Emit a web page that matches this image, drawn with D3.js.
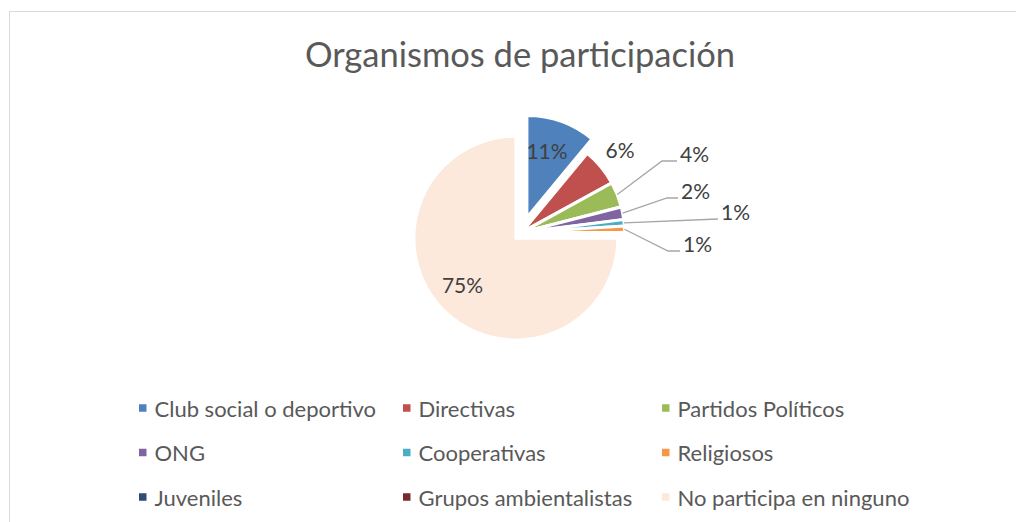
<!DOCTYPE html>
<html>
<head>
<meta charset="utf-8">
<script src="https://cdn.jsdelivr.net/npm/d3@7"></script>
<style>
  html, body { margin: 0; padding: 0; background: #fff; }
  svg { display: block; font-family: Lato, "Open Sans", sans-serif; }
  .pct { fill: #404040; font-size: 21px; }
  .legend-label { fill: #595959; font-size: 22px; }
  .title { fill: #595959; font-size: 34.5px; }
</style>
</head>
<body>
<div id="chart"></div>
<script>
const categories = [
  "Club social o deportivo", "Directivas", "Partidos Políticos",
  "ONG", "Cooperativas", "Religiosos",
  "Juveniles", "Grupos ambientalistas", "No participa en ninguno"
];
const values = [11, 6, 4, 2, 1, 1, 0, 0, 75];
const colors = [
  "#4F81BD", "#C0504D", "#9BBB59",
  "#8064A2", "#4BACC6", "#F79646",
  "#2C4D75", "#772C2A", "#FCE9DB"
];
// how far each slice is pulled out (px)
const explode = [16, 1, 1, 1, 1, 1, 0, 0, 8];

// label layout relative to pie centre
// "in": text centred at (dx,dy); "line": leader elbow (ex,ey) then end (dx,dy)
const labelLayout = [
  { type: "in", dx: 25.5, dy: -82.5 },
  { type: "in", dx: 98.5, dy: -83.5 },
  { type: "line", ex: 140.5, ey: -71.5, dx: 155.5, dy: -71.5 },
  { type: "line", ex: 145.5, ey: -34.5, dx: 156.5, dy: -34.5 },
  { type: "line", ex: 196.5, ey: -13.5, dx: 196.5, dy: -13.5 },
  { type: "line", ex: 146.5, ey: 18.5, dx: 158.5, dy: 18.5 },
  null, null,
  { type: "in", dx: -59, dy: 51.5 }
];

const W = 1016, H = 522;
const CX = 521.5, CY = 232.5, R = 102;

const svg = d3.select("#chart").append("svg")
  .attr("width", W).attr("height", H);

// chart frame
svg.append("rect")
  .attr("x", 9.5).attr("y", 11.5)
  .attr("width", W + 20).attr("height", H + 20)
  .attr("fill", "none").attr("stroke", "#d9d9d9");

svg.append("text")
  .attr("class", "title")
  .attr("x", 520).attr("y", 67)
  .attr("text-anchor", "middle")
  .text("Organismos de participación");

const data = categories.map((c, i) => ({ name: c, value: values[i], color: colors[i], i }));

const pie = d3.pie().sort(null).value(d => d.value);
const arcs = pie(data);
const arc = d3.arc().innerRadius(0).outerRadius(R);

const midAngle = a => (a.startAngle + a.endAngle) / 2;
function offset(a) {
  const m = midAngle(a), e = explode[a.index];
  return [Math.sin(m) * e, -Math.cos(m) * e];
}

const g = svg.append("g").attr("transform", `translate(${CX},${CY})`);

g.selectAll("path.slice")
  .data(arcs.filter(a => a.value > 0))
  .enter().append("path")
  .attr("class", "slice")
  .attr("transform", a => `translate(${offset(a)})`)
  .attr("d", arc)
  .attr("fill", a => a.data.color)
  .attr("stroke", "#fff")
  .attr("stroke-width", 3);

// labels
const total = d3.sum(values);
arcs.forEach((a, i) => {
  const L = labelLayout[i];
  if (!L || a.value <= 0) return;
  const txt = d3.format(".0%")(a.value / total);
  if (L.type === "in") {
    g.append("text").attr("class", "pct")
      .attr("x", L.dx).attr("y", L.dy)
      .attr("text-anchor", "middle")
      .attr("dominant-baseline", "central")
      .text(txt);
  } else {
    const [ox, oy] = offset(a);
    const m = midAngle(a);
    const sx = ox + Math.sin(m) * R;
    const sy = oy - Math.cos(m) * R;
    g.append("polyline")
      .attr("points", [[sx, sy], [L.ex, L.ey], [L.dx, L.dy]].map(p => p.join(",")).join(" "))
      .attr("fill", "none")
      .attr("stroke", "#a6a6a6")
      .attr("stroke-width", 1.3);
    g.append("text").attr("class", "pct")
      .attr("x", L.dx + 3).attr("y", L.dy - 7.5)
      .attr("dominant-baseline", "central")
      .text(txt);
  }
});

// legend
const colX = [139, 403, 662];
const rowY = [408, 452.5, 497];
const legend = svg.selectAll("g.legend")
  .data(data)
  .enter().append("g")
  .attr("class", "legend")
  .attr("transform", (d, i) => `translate(${colX[i % 3]},${rowY[Math.floor(i / 3)]})`);

legend.append("rect")
  .attr("x", 0).attr("y", -3.75)
  .attr("width", 7.5).attr("height", 7.5)
  .attr("fill", d => d.color);

legend.append("text")
  .attr("class", "legend-label")
  .attr("x", 15.5).attr("y", 0)
  .attr("dominant-baseline", "central")
  .text(d => d.name);
</script>
</body>
</html>
